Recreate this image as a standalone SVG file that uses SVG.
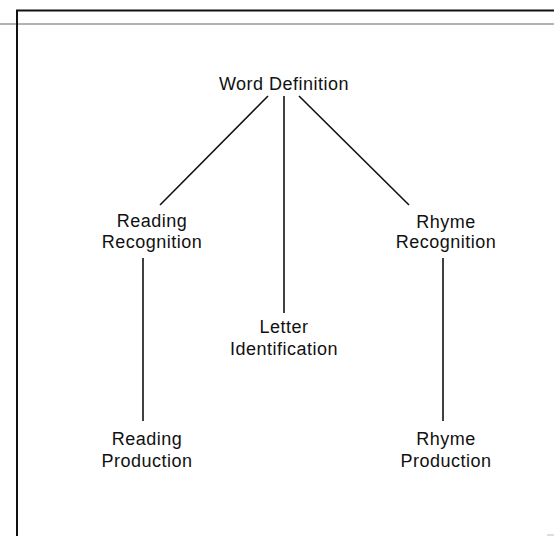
<svg xmlns="http://www.w3.org/2000/svg" width="554" height="536" viewBox="0 0 554 536">
<style>
.t{font-family:"Liberation Sans",Arial,sans-serif;font-size:18px;fill:#111;text-anchor:middle;letter-spacing:0.5px}
.c{stroke:#111;stroke-width:1.6;fill:none}
</style>
<rect width="554" height="536" fill="#fff"/>
<g id="frame">
<line x1="16" y1="10.5" x2="554" y2="10.5" stroke="#111" stroke-width="2"/>
<line x1="0" y1="24" x2="554" y2="24" stroke="#666" stroke-width="1"/>
<line x1="17" y1="10" x2="17" y2="536" stroke="#111" stroke-width="2"/>
<line x1="547" y1="535" x2="554" y2="535" stroke="#bbb" stroke-width="1"/>
</g>
<g id="connectors">
<line class="c" x1="268" y1="96" x2="160" y2="205"/>
<line class="c" x1="284" y1="96" x2="284" y2="313"/>
<line class="c" x1="299" y1="96" x2="409" y2="205"/>
<line class="c" x1="143" y1="258" x2="143" y2="421"/>
<line class="c" x1="443" y1="258" x2="443" y2="421"/>
</g>
<g id="word-definition"><text class="t" x="284" y="90">Word Definition</text></g>
<g id="reading-recognition"><text class="t" x="152" y="227">Reading</text><text class="t" x="152" y="248">Recognition</text></g>
<g id="rhyme-recognition"><text class="t" x="446" y="228">Rhyme</text><text class="t" x="446" y="248">Recognition</text></g>
<g id="letter-identification"><text class="t" x="284" y="333">Letter</text><text class="t" x="284" y="355">Identification</text></g>
<g id="reading-production"><text class="t" x="147" y="445">Reading</text><text class="t" x="147" y="467">Production</text></g>
<g id="rhyme-production"><text class="t" x="446" y="445">Rhyme</text><text class="t" x="446" y="467">Production</text></g>
</svg>
